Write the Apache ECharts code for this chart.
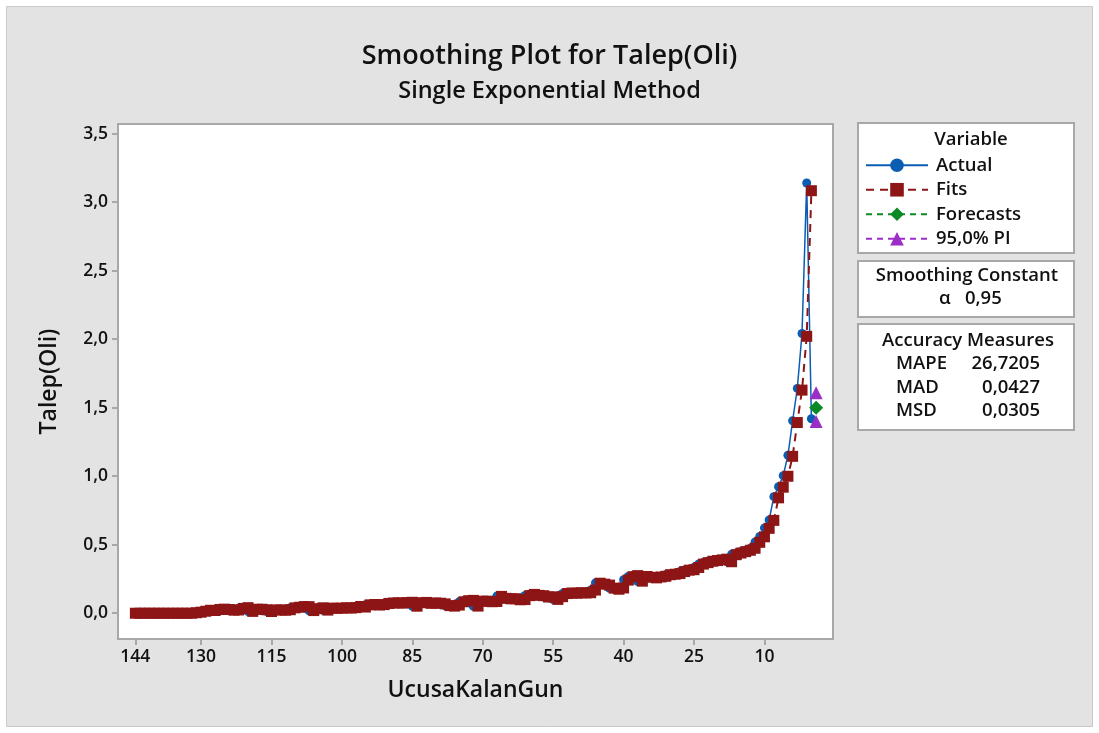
<!DOCTYPE html>
<html>
<head>
<meta charset="utf-8">
<title>Smoothing Plot for Talep(Oli)</title>
<script src="https://cdn.jsdelivr.net/npm/echarts@6/dist/echarts.min.js"></script>
<style>
  html, body { margin: 0; padding: 0; background: #ffffff; }
  #chart { width: 1099px; height: 733px; }
</style>
</head>
<body>
<div id="chart"></div>
<script>
// Time index tick positions and their UcusaKalanGun stamps
const tickIndex = [1, 15, 30, 45, 60, 75, 90, 105, 120, 135];
const tickLabels = ['144', '130', '115', '100', '85', '70', '55', '40', '25', '10'];
const yTicks = [0, 0.5, 1, 1.5, 2, 2.5, 3, 3.5];

// Talep(Oli) observations, one per index (index 1 = 144 days before the flight)
const actual = [
  0.000, 0.000, 0.000, 0.000, 0.000, 0.000, 0.000, 0.000, 0.000, 0.000,
  0.000, 0.000, 0.004, 0.008, 0.015, 0.022, 0.020, 0.028, 0.030, 0.027,
  0.022, 0.024, 0.036, 0.041, 0.012, 0.030, 0.029, 0.025, 0.012, 0.025,
  0.024, 0.022, 0.026, 0.040, 0.044, 0.049, 0.048, 0.018, 0.034, 0.040,
  0.022, 0.038, 0.036, 0.037, 0.040, 0.038, 0.041, 0.050, 0.045, 0.062,
  0.064, 0.060, 0.063, 0.072, 0.075, 0.076, 0.074, 0.078, 0.080, 0.050,
  0.078, 0.079, 0.072, 0.075, 0.073, 0.068, 0.055, 0.052, 0.060, 0.085,
  0.092, 0.094, 0.050, 0.090, 0.088, 0.084, 0.086, 0.125, 0.108, 0.105,
  0.106, 0.098, 0.100, 0.130, 0.138, 0.130, 0.128, 0.118, 0.120, 0.100,
  0.122, 0.145, 0.148, 0.146, 0.150, 0.148, 0.150, 0.170, 0.222, 0.212,
  0.205, 0.182, 0.175, 0.185, 0.245, 0.268, 0.275, 0.232, 0.270, 0.262,
  0.258, 0.265, 0.270, 0.282, 0.285, 0.290, 0.305, 0.315, 0.318, 0.335,
  0.360, 0.370, 0.380, 0.385, 0.390, 0.395, 0.375, 0.430, 0.440, 0.450,
  0.460, 0.475, 0.520, 0.560, 0.623, 0.681, 0.851, 0.924, 1.004, 1.153,
  1.405, 1.641, 2.042, 3.140, 1.420
];

// Smoothing settings and summary figures
const alpha = 0.95;
const forecastValue = [1.50];
const piLower = [1.40];
const piUpper = [1.61];
const accuracyNames = ['MAPE', 'MAD', 'MSD'];
const accuracyValues = ['26,7205', '0,0427', '0,0305'];

// One-step-ahead fitted values of single exponential smoothing
const fits = [];
(function () {
  let level = actual.slice(0, 6).reduce((a, b) => a + b, 0) / 6;
  for (let t = 0; t < actual.length; t++) {
    fits.push(level);
    level = alpha * actual[t] + (1 - alpha) * level;
  }
})();

const actualData = actual.map((v, i) => [i + 1, v]);
const fitsData = fits.map((v, i) => [i + 1, +v.toFixed(4)]);
const nextIndex = actual.length + 1;

const FONT = "'Open Sans', 'Noto Sans', sans-serif";
const INK = '#111111';
const FRAME = '#a8a8a8';
const BLUE = '#0b5db3';
const RED = '#8e1515';
const GREEN = '#0a8a24';
const PURPLE = '#9a2ec6';
const PANEL_FONT = '600 18.5px ' + FONT;

const comma = v => String(v).replace('.', ',');

const chart = echarts.init(document.getElementById('chart'), null, { renderer: 'canvas' });

const option = {
  animation: false,
  backgroundColor: '#ffffff',
  textStyle: { fontFamily: FONT, color: INK },
  title: {
    text: 'Smoothing Plot for Talep(Oli)',
    subtext: 'Single Exponential Method',
    left: 'center',
    top: 34,
    itemGap: 3,
    textStyle: { fontFamily: FONT, fontSize: 27, fontWeight: 600, color: INK, lineHeight: 34 },
    subtextStyle: { fontFamily: FONT, fontSize: 23.5, fontWeight: 600, color: INK, lineHeight: 31 }
  },
  grid: {
    left: 118, top: 124, right: 266, bottom: 94,
    show: true, backgroundColor: '#ffffff', borderColor: FRAME, borderWidth: 2
  },
  legend: {
    orient: 'vertical',
    left: 860,
    top: 149,
    itemWidth: 62,
    itemHeight: 17,
    itemGap: 2,
    z: 10,
    data: ['Actual', 'Fits', 'Forecasts', '95,0% PI'],
    textStyle: { fontFamily: FONT, fontSize: 18.5, fontWeight: 600, color: INK, padding: [0, 0, 0, 3], lineHeight: 22.5 }
  },
  xAxis: {
    type: 'value',
    min: -2.7,
    max: 149.6,
    name: 'UcusaKalanGun',
    nameLocation: 'middle',
    nameGap: 40,
    nameTextStyle: { fontFamily: FONT, fontSize: 23, fontWeight: 600, color: INK },
    axisLine: { show: true, onZero: false, lineStyle: { color: FRAME, width: 2 } },
    axisTick: { show: true, customValues: tickIndex, length: 6, lineStyle: { color: FRAME, width: 2 } },
    axisLabel: {
      customValues: tickIndex,
      formatter: v => tickLabels[tickIndex.indexOf(v)],
      fontSize: 17.5, fontWeight: 600, color: INK, margin: 9
    },
    splitLine: { show: false }
  },
  yAxis: {
    type: 'value',
    min: -0.188,
    max: 3.571,
    name: 'Talep(Oli)',
    nameLocation: 'middle',
    nameGap: 57,
    nameTextStyle: { fontFamily: FONT, fontSize: 23, fontWeight: 600, color: INK },
    axisLine: { show: true, onZero: false, lineStyle: { color: FRAME, width: 2 } },
    axisTick: { show: true, customValues: yTicks, length: 6, lineStyle: { color: FRAME, width: 2 } },
    axisLabel: {
      customValues: yTicks,
      formatter: v => comma(v.toFixed(1)),
      fontSize: 17.5, fontWeight: 600, color: INK, margin: 10
    },
    splitLine: { show: false }
  },
  series: [
    {
      name: 'Actual', type: 'line', data: actualData, z: 2,
      symbol: 'circle', symbolSize: 9,
      lineStyle: { color: BLUE, width: 1.5 },
      itemStyle: { color: BLUE }
    },
    {
      name: 'Fits', type: 'line', data: fitsData, z: 3,
      symbol: 'rect', symbolSize: 11,
      lineStyle: { color: RED, width: 2, type: [8, 6] },
      itemStyle: { color: RED }
    },
    {
      name: 'Forecasts', type: 'line', data: forecastValue.map(v => [nextIndex, v]), z: 4,
      symbol: 'diamond', symbolSize: 14,
      lineStyle: { color: GREEN, width: 2, type: [6, 5] },
      itemStyle: { color: GREEN }
    },
    {
      name: '95,0% PI', type: 'line', data: piUpper.map(v => [nextIndex, v]), z: 4,
      symbol: 'triangle', symbolSize: 13,
      lineStyle: { color: PURPLE, width: 2, type: [6, 5] },
      itemStyle: { color: PURPLE }
    },
    {
      name: '95,0% PI', type: 'line', data: piLower.map(v => [nextIndex, v]), z: 4,
      symbol: 'triangle', symbolSize: 13,
      lineStyle: { color: PURPLE, width: 2, type: [6, 5] },
      itemStyle: { color: PURPLE }
    }
  ],
  graphic: [
    // outer panel
    { type: 'rect', z: -5, silent: true,
      shape: { x: 6.5, y: 6.5, width: 1086, height: 720 },
      style: { fill: '#e3e3e3', stroke: '#c9c9c9', lineWidth: 1 } },
    // legend box
    { type: 'rect', z: 1, silent: true,
      shape: { x: 858, y: 123, width: 216, height: 130 },
      style: { fill: '#ffffff', stroke: FRAME, lineWidth: 2 } },
    { type: 'text', z: 2, silent: true, x: 971, y: 140,
      style: { text: 'Variable', fill: INK, font: PANEL_FONT, align: 'center', verticalAlign: 'middle' } },
    // smoothing constant box
    { type: 'rect', z: 1, silent: true,
      shape: { x: 858, y: 261, width: 216, height: 56 },
      style: { fill: '#ffffff', stroke: FRAME, lineWidth: 2 } },
    { type: 'text', z: 2, silent: true, x: 967, y: 276,
      style: { text: 'Smoothing Constant', fill: INK, font: PANEL_FONT, align: 'center', verticalAlign: 'middle' } },
    { type: 'text', z: 2, silent: true, x: 939, y: 299,
      style: { text: 'α', fill: INK, font: PANEL_FONT, align: 'left', verticalAlign: 'middle' } },
    { type: 'text', z: 2, silent: true, x: 965, y: 299,
      style: { text: comma(alpha.toFixed(2)), fill: INK, font: PANEL_FONT, align: 'left', verticalAlign: 'middle' } },
    // accuracy measures box
    { type: 'rect', z: 1, silent: true,
      shape: { x: 858, y: 324, width: 216, height: 106 },
      style: { fill: '#ffffff', stroke: FRAME, lineWidth: 2 } },
    { type: 'text', z: 2, silent: true, x: 968, y: 341,
      style: { text: 'Accuracy Measures', fill: INK, font: PANEL_FONT, align: 'center', verticalAlign: 'middle' } }
  ].concat(
    accuracyNames.map((n, k) => ({
      type: 'text', z: 2, silent: true, x: 896, y: 364 + k * 23.5,
      style: { text: n, fill: INK, font: PANEL_FONT, align: 'left', verticalAlign: 'middle' }
    })),
    accuracyValues.map((v, k) => ({
      type: 'text', z: 2, silent: true, x: 1040, y: 364 + k * 23.5,
      style: { text: v, fill: INK, font: PANEL_FONT, align: 'right', verticalAlign: 'middle' }
    }))
  )
};

chart.setOption(option);
</script>
</body>
</html>
